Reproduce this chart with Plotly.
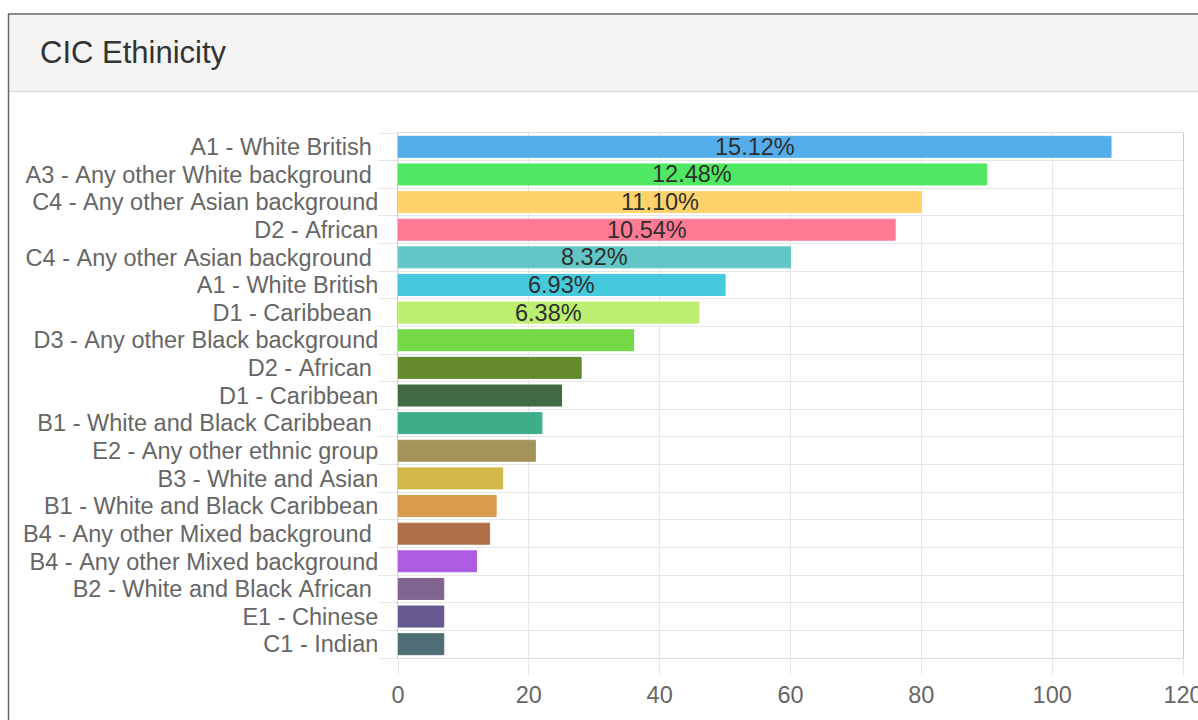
import plotly.graph_objects as go

# ---- data ----
categories = [
    "A1 - White British ",
    "A3 - Any other White background ",
    "C4 - Any other Asian background",
    "D2 - African",
    "C4 - Any other Asian background ",
    "A1 - White British",
    "D1 - Caribbean ",
    "D3 - Any other Black background",
    "D2 - African ",
    "D1 - Caribbean",
    "B1 - White and Black Caribbean ",
    "E2 - Any other ethnic group",
    "B3 - White and Asian",
    "B1 - White and Black Caribbean",
    "B4 - Any other Mixed background ",
    "B4 - Any other Mixed background",
    "B2 - White and Black African ",
    "E1 - Chinese",
    "C1 - Indian",
]
values = [109, 90, 80, 76, 60, 50, 46, 36, 28, 25, 22, 21, 16, 15, 14, 12, 7, 7, 7]
colors = [
    "#54AEEC", "#50E862", "#FFD36C", "#FF7A95", "#63C6C6", "#45C9DD", "#BCEE6F",
    "#74D944", "#648A2C", "#416A43", "#3DAE88", "#A39459", "#D2B848", "#D99B4E",
    "#B06F48", "#AE5CE2", "#80648F", "#675A93", "#4F6E75",
]
x_ticks = [0, 20, 40, 60, 80, 100, 120]
title_text = "CIC Ethinicity"

W, H = 1198, 720
FONT = "Liberation Sans, Arial, sans-serif"

def px(x):
    return x / W

def py(y):
    return 1 - y / H

total = sum(values)
idx = list(range(len(values)))
labels = [c.replace(" ", "\u00a0") for c in categories]

fig = go.Figure()
fig.add_trace(go.Bar(
    y=idx, x=values, orientation="h",
    marker=dict(color=colors, line=dict(color=colors, width=1)),
    width=0.76, hoverinfo="skip",
))

annotations = []
for i, v in enumerate(values):
    p = v / total * 100
    if p >= 5:
        annotations.append(dict(
            x=v / 2, y=i, xref="x", yref="y", text=f"{p:.2f}%", showarrow=False,
            font=dict(family=FONT, size=23.5, color="#2e2e2e"),
            xanchor="center", yanchor="middle",
        ))

annotations.append(dict(
    x=px(38), y=py(53), xref="paper", yref="paper", text=title_text,
    showarrow=False, xanchor="left", yanchor="middle",
    font=dict(family=FONT, size=31, color="#333333"),
))

shapes = [
    dict(type="rect", xref="paper", yref="paper", x0=px(8), x1=1.01, y0=py(91.5), y1=py(14),
         fillcolor="#f4f4f4", line=dict(width=0), layer="below"),
    dict(type="line", xref="paper", yref="paper", x0=px(8), x1=1.01, y0=py(91.5), y1=py(91.5),
         line=dict(color="#dddddd", width=1.5)),
    dict(type="line", xref="paper", yref="paper", x0=px(8), x1=1.01, y0=py(14), y1=py(14),
         line=dict(color="#666666", width=1.5)),
    dict(type="line", xref="paper", yref="paper", x0=px(8.5), x1=px(8.5), y0=py(14), y1=-0.01,
         line=dict(color="#666666", width=1.5)),
]

fig.update_layout(
    width=W, height=H,
    margin=dict(l=0, r=0, t=0, b=0),
    paper_bgcolor="white", plot_bgcolor="white",
    showlegend=False,
    annotations=annotations,
    shapes=shapes,
    xaxis=dict(
        domain=[px(398), px(1183)],
        range=[0, 120], tickvals=x_ticks,
        showgrid=True, gridcolor="#e6e6e6", gridwidth=1,
        zeroline=False,
        ticks="outside", ticklen=16, tickcolor="#e6e6e6",
        tickfont=dict(family=FONT, size=23.5, color="#666666"),
        ticklabeloverflow="allow",
        showline=True, linecolor="#dcdcdc", mirror=True,
        automargin=False, fixedrange=True,
    ),
    yaxis=dict(
        domain=[py(658), py(133)],
        range=[len(values) - 0.5, -0.5],
        tickvals=idx, ticktext=labels,
        showgrid=False, zeroline=False,
        ticks="outside", ticklen=14, tickcolor="rgba(0,0,0,0)",
        tickfont=dict(family=FONT, size=23.5, color="#666666"),
        minor=dict(tick0=0.5, dtick=1, ticks="outside", ticklen=19, tickcolor="#e6e6e6",
                   showgrid=True, gridcolor="#e6e6e6"),
        showline=True, linecolor="#cccccc", mirror=True,
        automargin=False, fixedrange=True,
    ),
)

fig.write_html("out.html")
